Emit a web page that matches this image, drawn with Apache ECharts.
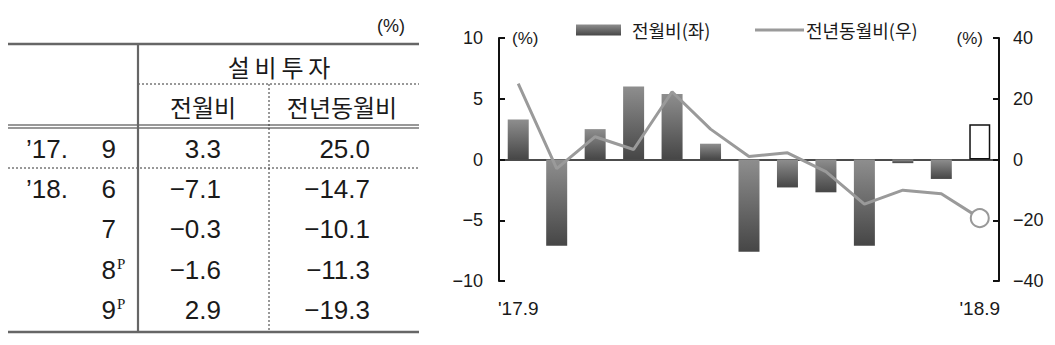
<!DOCTYPE html>
<html>
<head>
<meta charset="utf-8">
<script src="https://cdn.jsdelivr.net/npm/echarts@6/dist/echarts.min.js"></script>
<style>
html,body{margin:0;padding:0;background:#fff;}
#c{width:1055px;height:345px;}
</style>
</head>
<body>
<div id="c"></div>
<script>
// ---- chart data ----
const categories = ['17.9','17.10','17.11','17.12','18.1','18.2','18.3','18.4','18.5','18.6','18.7','18.8','18.9'];
const momValues = [3.3, -7.1, 2.5, 6.0, 5.4, 1.3, -7.6, -2.3, -2.7, -7.1, -0.3, -1.6, 2.9];
const yoyValues = [25.0, -3.0, 7.5, 3.3, 22.3, 10.0, 1.0, 2.2, -4.0, -14.7, -10.1, -11.3, -19.3];
const xTickLabels = {0: "'17.9", 12: "'18.9"};
const leftTicks = {min: -10, max: 10, interval: 5};
const rightTicks = {min: -40, max: 40, interval: 20};
const seriesNames = ['전월비(좌)', '전년동월비(우)'];

// ---- table data ----
const tableUnit = '(%)';
const tableTitle = '설비투자';
const tableColHeads = ['전월비', '전년동월비'];
const tableYears = ['’17.', '’18.', '', '', ''];
const tableMonths = ['9', '6', '7', '8', '9'];
const tableSup = ['', '', '', 'P', 'P'];
const tableMom = ['3.3', '−7.1', '−0.3', '−1.6', '2.9'];
const tableYoy = ['25.0', '−14.7', '−10.1', '−11.3', '−19.3'];

const FONT = "'Liberation Sans', 'Noto Sans CJK KR', sans-serif";
const KFONT = "'Noto Sans CJK KR', 'Liberation Sans', sans-serif";
const TXT = '#1a1a1a';

const chart = echarts.init(document.getElementById('c'), null, {renderer: 'svg'});

// ---- table graphic ----
const g = [];
function hline(y, x1, x2, w, color, dash) {
  g.push({type: 'line', shape: {x1: x1, y1: y, x2: x2, y2: y},
    style: {stroke: color, lineWidth: w, lineDash: dash || null}, silent: true});
}
function vline(x, y1, y2, w, color, dash) {
  g.push({type: 'line', shape: {x1: x, y1: y1, x2: x, y2: y2},
    style: {stroke: color, lineWidth: w, lineDash: dash || null}, silent: true});
}
function text(str, x, y, size, align, family, color) {
  g.push({type: 'text', x: x, y: y, silent: true,
    style: {text: str, fontSize: size, fontFamily: family || FONT, fill: color || TXT,
      align: align || 'center', verticalAlign: 'middle'}});
}
hline(44, 8, 419, 2.5, '#666');
hline(332, 8, 419, 2.5, '#666');
hline(125, 8, 419, 1.2, '#333');
hline(128, 8, 419, 1.2, '#333');
hline(84, 138, 419, 1, '#333', [2, 2]);
hline(168, 8, 419, 1, '#333', [2, 2]);
vline(269, 84, 332, 1, '#333', [2, 2]);
vline(138, 44, 332, 2.2, '#666');

text(tableUnit, 405, 26, 18, 'right');
text(tableTitle.split('').join('\u2009'), 279, 66, 24, 'center', KFONT);
text(tableColHeads[0], 203, 106, 24, 'center', KFONT);
text(tableColHeads[1], 342, 106, 24, 'center', KFONT);
const rowY = [149, 189, 229, 270, 310];
for (let i = 0; i < rowY.length; i++) {
  if (tableYears[i]) text(tableYears[i], 68, rowY[i], 26, 'right');
  text(tableMonths[i], 116, rowY[i], 26, 'right');
  if (tableSup[i]) text(tableSup[i], 117, rowY[i] - 6, 15, 'left', "'Liberation Serif', serif");
  text(tableMom[i], 221, rowY[i], 26, 'right');
  text(tableYoy[i], 370, rowY[i], 26, 'right');
}
// chart unit labels
text('(%)', 512, 38, 17, 'left');
text('(%)', 983, 38, 17, 'right');

const barGrad = {type: 'linear', x: 0, y: 0, x2: 0, y2: 1,
  colorStops: [{offset: 0, color: '#8e8e8e'}, {offset: 1, color: '#464646'}]};

const barData = momValues.map((v, i) => i === momValues.length - 1
  ? {value: v, itemStyle: {color: '#fff', borderColor: '#111', borderWidth: 1.5}}
  : v);
const lineData = yoyValues.map((v, i) => i === yoyValues.length - 1
  ? {value: v, symbol: 'circle', symbolSize: 18,
     itemStyle: {color: '#fff', borderColor: '#999', borderWidth: 2}}
  : v);

const minusFmt = v => String(v).replace('-', '−');

chart.setOption({
  animation: false,
  backgroundColor: '#fff',
  graphic: g,
  legend: [
    {left: 571, top: 16, itemWidth: 45, itemHeight: 11, itemGap: 0,
     data: [{name: seriesNames[0], icon: 'rect'}],
     textStyle: {fontSize: 18, fontFamily: KFONT, color: TXT, padding: [0, 0, 0, 6]}},
    {left: 750, top: 16, itemWidth: 49, itemHeight: 3, itemGap: 0,
     data: [{name: seriesNames[1], icon: 'rect', itemStyle: {color: '#9a9a9a', borderWidth: 0}}],
     textStyle: {fontSize: 18, fontFamily: KFONT, color: TXT, padding: [0, 0, 0, -3]}}
  ],
  grid: {left: 499, right: 56, top: 38, bottom: 64},
  xAxis: [
    {type: 'category', data: categories, boundaryGap: true,
     axisLine: {onZero: true, onZeroAxisIndex: 0, lineStyle: {color: '#111', width: 1.5}},
     axisTick: {show: true, inside: true, length: 6, interval: (i) => i === 12,
       lineStyle: {color: '#111', width: 1}},
     axisLabel: {show: false}, splitLine: {show: false}},
    {type: 'category', data: categories, position: 'bottom',
     axisLine: {show: false, onZero: false}, axisTick: {show: false},
     axisLabel: {interval: 0, margin: 18, fontSize: 19, fontFamily: FONT, color: TXT,
       formatter: (v, i) => xTickLabels[i] || ''},
     splitLine: {show: false}}
  ],
  yAxis: [
    {type: 'value', min: leftTicks.min, max: leftTicks.max, interval: leftTicks.interval,
     axisLine: {show: true, lineStyle: {color: '#111', width: 2}},
     axisTick: {show: true, inside: true, length: 6, lineStyle: {color: '#111', width: 2}},
     axisLabel: {margin: 16, fontSize: 18, fontFamily: FONT, color: TXT, formatter: minusFmt},
     splitLine: {show: false}},
    {type: 'value', min: rightTicks.min, max: rightTicks.max, interval: rightTicks.interval,
     position: 'right',
     axisLine: {show: true, lineStyle: {color: '#111', width: 2}},
     axisTick: {show: true, inside: true, length: 6, lineStyle: {color: '#111', width: 2}},
     axisLabel: {margin: 14, fontSize: 18, fontFamily: FONT, color: TXT, formatter: minusFmt},
     splitLine: {show: false}}
  ],
  series: [
    {name: seriesNames[0], type: 'bar', xAxisIndex: 0, yAxisIndex: 0, barWidth: 21,
     itemStyle: {color: barGrad}, data: barData},
    {name: seriesNames[1], type: 'line', xAxisIndex: 0, yAxisIndex: 1,
     symbol: 'none', showAllSymbol: true,
     lineStyle: {color: '#9a9a9a', width: 3}, itemStyle: {color: '#9a9a9a'},
     data: lineData, z: 5}
  ]
});
</script>
</body>
</html>
